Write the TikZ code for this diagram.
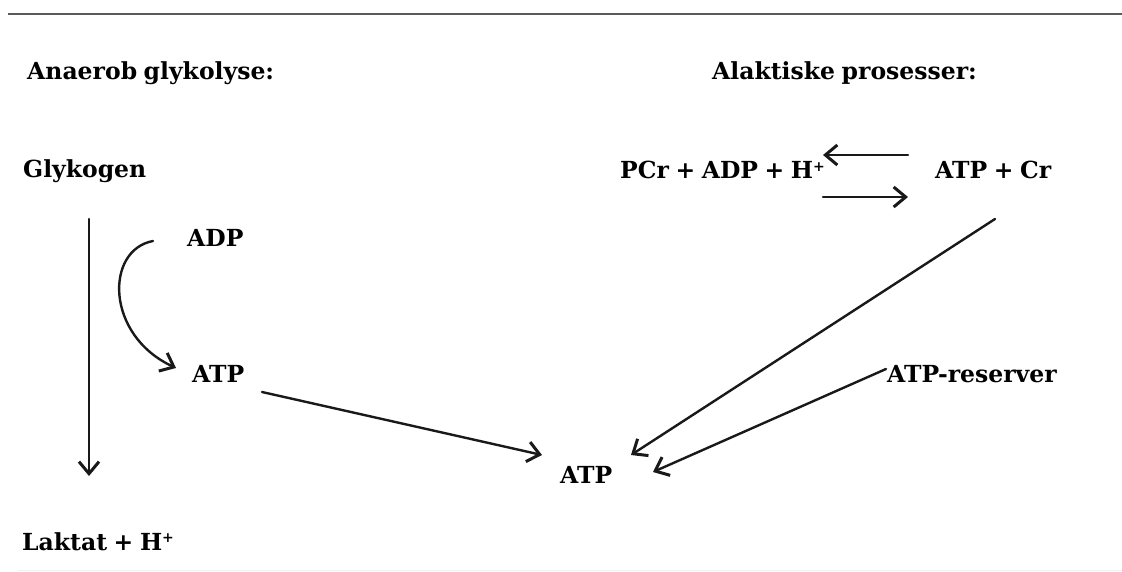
\documentclass[tikz,border=0pt]{standalone}
\usepackage{fontspec}
\setmainfont{DejaVu Serif}
\usetikzlibrary{arrows.meta}

% small raised plus sign for ion charges
\newcommand{\ionplus}{\raisebox{0.32em}{\fontsize{14}{14}\selectfont +}}
% tighter word spacing inside labels
\newcommand{\tightspace}{\spaceskip=0.28em\relax}

\tikzset{
  lbl/.style={anchor=base west, inner sep=0pt,
    font=\fontsize{23.5}{27}\selectfont\bfseries,
    execute at begin node=\tightspace},
  conn/.style={line width=2.4pt, draw=black!90, line cap=round,
    -{Straight Barb[length=12pt,width=20pt,line width=3pt]}},
}

\begin{document}
\begin{tikzpicture}[x=1pt,y=-1pt]
  \useasboundingbox (0,0) rectangle (1122,572);

  % page rules
  \draw[line width=2.6pt, draw=black!65] (8,14) -- (1122,14);
  \draw[line width=1pt, draw=black!5] (18,570) -- (1122,570);

  % headings
  \node[lbl] (h1) at (27,80) {Anaerob glykolyse:};
  \node[lbl] (h2) at (712,80) {Alaktiske prosesser:};

  % anaerobic glycolysis
  \node[lbl] (glyk) at (23,178) {Glykogen};
  \node[lbl] (adp)  at (187,247) {ADP};
  \node[lbl] (atpa) at (192,382) {ATP};
  \node[lbl] (lak)  at (22,550) {Laktat + H\ionplus};

  % alactic processes
  \node[lbl] (pcr)  at (620,179) {PCr + ADP + H\ionplus};
  \node[lbl] (atpcr) at (935,179) {ATP + Cr};
  \node[lbl] (res)  at (887,382) {ATP-reserver};

  % common ATP pool
  \node[lbl] (atp)  at (560,483) {ATP};

  % connector end points next to the labels
  \coordinate (glyk-out) at (89,219);
  \coordinate (lak-in)   at (89,476);
  \coordinate (adp-out)  at (153,241);
  \coordinate (atpa-in)  at (176,368);
  \coordinate (atpa-out) at (262,392);
  \coordinate (atp-inA)  at (542,455);
  \coordinate (atpcr-out) at (995,219);
  \coordinate (atp-inB)  at (631,455);
  \coordinate (res-out)  at (886,369);
  \coordinate (atp-inC)  at (653,472);
  \coordinate (eq-r1) at (908,155);
  \coordinate (eq-l1) at (823,155);
  \coordinate (eq-l2) at (823,197);
  \coordinate (eq-r2) at (908,197);

  % glycolysis path
  \draw[conn] (glyk-out) -- (lak-in);
  \draw[conn] (adp-out) .. controls (105,250) and (105,335) .. (atpa-in);
  \draw[conn] (atpa-out) -- (atp-inA);

  % creatine kinase equilibrium
  \draw[conn] (eq-r1) -- (eq-l1);
  \draw[conn] (eq-l2) -- (eq-r2);

  % alactic supply to the ATP pool
  \draw[conn] (atpcr-out) -- (atp-inB);
  \draw[conn] (res-out) -- (atp-inC);
\end{tikzpicture}
\end{document}
